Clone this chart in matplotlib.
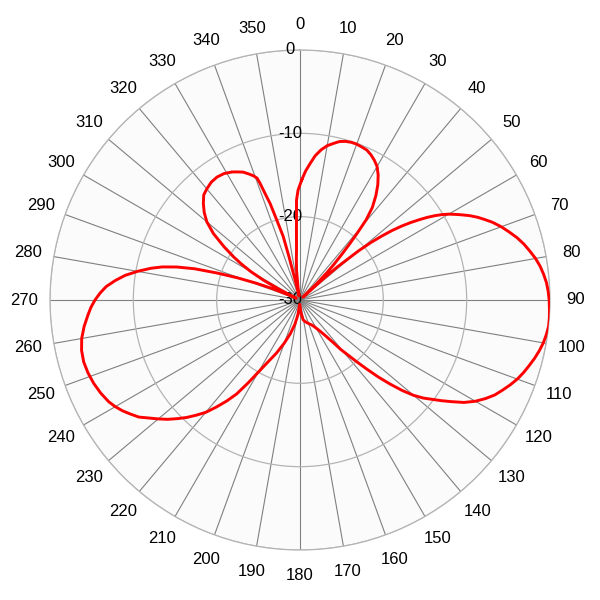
import numpy as np
import matplotlib
matplotlib.use("Agg")
import matplotlib.pyplot as plt
from matplotlib.transforms import ScaledTranslation

plt.rcParams['font.family'] = ['Liberation Sans', 'DejaVu Sans']

# antenna pattern, angle in degrees (clockwise from north) and gain in dB
angles_deg = [0.8, 2.5, 4.2, 6, 8, 10, 12, 14, 16, 18, 20, 22, 24, 26, 28, 30, 32, 34, 36, 38,
              39.5, 40.5, 41.5, 42.5, 43.5, 44.5, 45.5, 46.5,
              47.5, 48.5, 50, 51, 52, 53, 54, 55, 56, 57, 58, 59, 60, 61, 62, 63.5, 65, 66.5,
              68, 70, 72, 74, 76, 78, 80, 82, 84, 86, 88, 90, 92, 94, 96, 98, 100, 102, 104,
              106, 108, 110, 112, 114, 116, 118, 120, 122, 124, 125.5, 127, 128.5, 130, 131.5,
              133, 134.5, 136, 137.5, 139, 140.5, 142, 144.7, 147, 149.5, 152, 155, 160,
              166, 171, 176, 180,
              184, 188, 192, 196, 200, 204, 207, 210, 212, 214, 216, 218, 220, 222, 224, 226,
              228, 230, 232, 234, 236, 238, 240, 242, 245, 248, 251, 254, 257, 260, 263, 266,
              268, 270, 272, 274, 276, 278, 280, 282, 283.5, 285, 286.5, 288, 289.5, 291,
              292.5, 294, 295.5,
              297, 298.5, 300, 301.5, 303, 305, 307.5, 310, 312.5, 315, 317.5, 320, 323, 326,
              329, 332, 334, 336, 338, 339.5, 340.6, 341.1, 341.8, 342.8, 343.8, 345.2, 345.7,
              346.3, 347.5, 351, 353.4, 355, 356, 357.1, 358, 359, 360.8]
gain_db = [-15.6, -14.5, -13.6, -12.6, -11.8, -11.2, -10.8, -10.4, -10.2, -10.1, -10.1, -10.2,
           -10.3, -10.6, -11.0, -11.5, -12.3, -13.3, -14.5, -15.9,
           -17.5, -19.3, -21.0, -22.6, -24.0, -25.3, -27.0, -29.5,
           -26.5, -24.0, -20.8, -19.0, -17.5, -16.1, -14.9, -13.8, -12.8, -11.8, -10.9, -10.1,
           -9.4, -8.8, -8.2, -7.3, -6.5, -5.8,
           -5.1, -4.3, -3.6, -2.9, -2.3, -1.8, -1.3, -0.9, -0.6, -0.35, -0.2, -0.1, -0.05, 0.0,
           0.0, -0.15, -0.35, -0.65, -1.0,
           -1.4, -1.8, -2.25, -2.8, -3.4, -4.0, -4.8, -5.7, -6.8, -8.2, -9.2, -10.2, -11.1,
           -12.2, -13.6,
           -15.2, -16.8, -18.5, -20.0, -21.3, -22.3, -23.5, -24.8, -25.5, -26.0, -26.4, -26.7,
           -27.0,
           -27.3, -27.6, -28.5, -29.3,
           -29.5, -28.2, -27.0, -25.8, -24.5, -23.0, -21.8, -20.0, -18.3, -16.4, -15.0, -13.7,
           -12.4, -11.4, -10.4, -9.5,
           -8.6, -7.8, -7.0, -6.1, -5.5, -4.9, -4.4, -4.0, -3.6, -3.3, -3.1, -3.0, -3.1, -3.4,
           -3.9, -4.5,
           -4.9, -5.4, -6.0, -6.7, -7.7, -8.8, -10.2, -11.7, -13.0, -14.7, -16.8, -19.5, -22.0,
           -24.4,
           -26.5, -28.5, -29.5,
           -27.3, -25.0, -23.2, -21.8, -20.5, -18.9, -16.9, -15.4, -14.4, -13.6, -12.9, -12.6,
           -12.3, -12.2,
           -12.3, -12.6, -12.9, -13.2, -13.7, -14.1, -14.5, -15.2, -16.5, -17.9, -20.0, -22.1,
           -24.5,
           -27.5, -29.5, -28.5, -26.4, -25.0, -24.0, -21.6, -18.0, -16.8, -15.6]

r_ticks = [-30, -20, -10, 0]
theta_ticks = list(range(0, 360, 10))

fig = plt.figure(figsize=(6, 6), dpi=100)
ax = fig.add_axes([50 / 600, 50 / 600, 500 / 600, 500 / 600], projection='polar')
ax.set_facecolor('#fbfbfb')
ax.set_theta_zero_location('N')
ax.set_theta_direction(-1)

ax.plot(np.radians(angles_deg), gain_db, color='red', lw=2.1, zorder=5)

ax.set_ylim(-30, 0)
ax.set_yticks(r_ticks)
ax.set_yticklabels([])
shift = ax.transData + ScaledTranslation(-0.10, 0, fig.dpi_scale_trans)
for t in r_ticks:
    ax.text(0, t, str(t), transform=shift, ha='center', va='center', fontsize=12, zorder=3)

ax.set_xticks(np.radians(theta_ticks))
ax.set_xticklabels([str(t) for t in theta_ticks], fontsize=12)
ax.tick_params(axis='x', pad=8)

ax.xaxis.grid(True, color='#808080', lw=0.8)
ax.yaxis.grid(True, color='#b4b4b4', lw=0.9)
ax.spines['polar'].set_color('#b4b4b4')
ax.spines['polar'].set_linewidth(0.9)

fig.savefig('out.png', dpi=100, facecolor='white')
